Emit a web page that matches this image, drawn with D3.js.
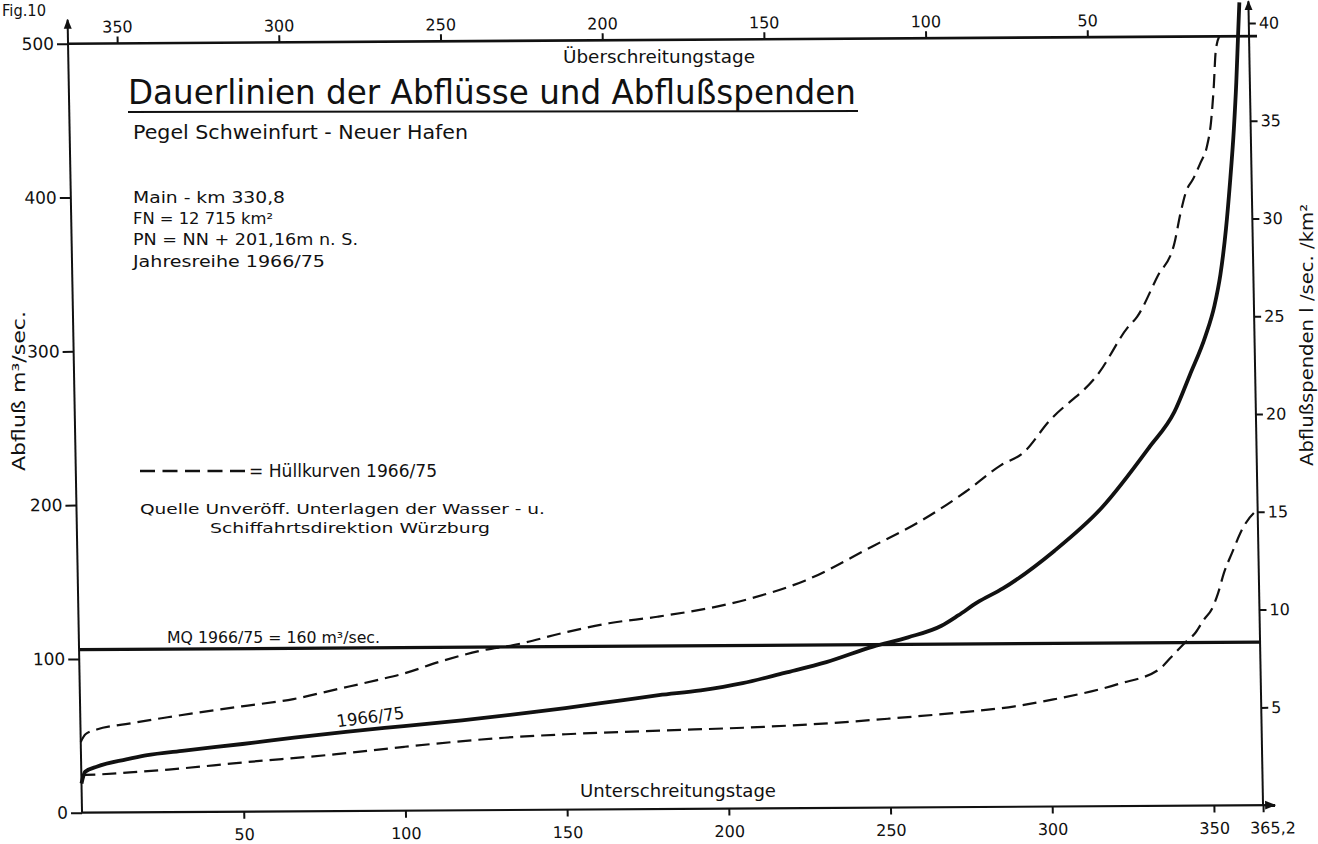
<!DOCTYPE html>
<html>
<head>
<meta charset="utf-8">
<script src="https://cdn.jsdelivr.net/npm/d3@7"></script>
<style>
  body { margin: 0; background: #fff; }
  text { font-family: "DejaVu Sans", sans-serif; fill: #111; }
</style>
</head>
<body>
<svg id="chart" width="1318" height="844"></svg>
<script>
// Flow duration curves, gauge Schweinfurt - Neuer Hafen (Main), 1966/75
// Days are "Unterschreitungstage" (days below), discharge in m³/sec.

const meanDays  = [0, 1.2, 5, 14, 20, 32, 50, 66, 82, 100, 118, 138, 150, 168, 179, 192, 205, 218, 231, 245.5, 256.4, 266.8, 272, 278, 286, 302, 317, 332, 340, 345, 350, 353, 355, 357, 358.5, 360, 361, 361.8, 362.4];
const meanFlow  = [19, 26.6, 30, 34.5, 37, 40, 44, 48, 51.5, 55, 58.5, 63, 66, 71, 74, 77, 81.5, 88, 94.8, 104.7, 110.6, 118, 124.6, 133, 142, 166, 194, 233, 256, 280, 305, 325, 345, 375, 405, 440, 470, 500, 522];

const upperDays = [0, 1.5, 5, 14, 27, 50, 66, 79, 92, 100, 112, 125, 134, 150, 164, 179, 207, 225, 246, 260, 275, 286, 293, 301, 317, 326, 329, 335.5, 341, 343, 345, 347, 349.5, 351.5, 353, 354, 354.8, 356];
const upperFlow = [46, 51, 54, 57.4, 61.7, 68.5, 73, 79, 85, 89, 97, 104, 107, 115, 121, 125, 136, 148, 170, 185, 205, 222, 230, 250, 282, 311, 318, 344, 366, 385, 400, 407, 418, 428, 445, 467, 490, 500];

const lowerDays = [0, 5, 15, 27, 50, 79, 100, 131, 150, 179, 205, 231, 250, 269, 289, 301, 321, 334, 337.6, 341.5, 345.4, 348, 350.5, 352.5, 354.4, 357, 361, 364, 365.2];
const lowerFlow = [24.5, 24.8, 26, 27.7, 32, 37, 41.5, 47, 49, 51, 52.5, 55, 57.8, 61, 65.3, 69.6, 79.3, 89, 96.5, 105, 112.7, 121, 127.8, 138, 151, 164, 182, 190, 192];

// Mean discharge line and catchment area
const mqFlow = 106;
const catchmentKm2 = 12715;

// Tick labels
const bottomTicks = [50, 100, 150, 200, 250, 300, 350, 365.2];
const topTicks    = [350, 300, 250, 200, 150, 100, 50];
const leftTicks   = [0, 100, 200, 300, 400, 500];
const rightTicks  = [5, 10, 15, 20, 25, 30, 35, 40];
const yearDays = 365.2;

const svg = d3.select("#chart");
const L = 75, R = 1256, T = 40, B = 809;

const x    = d3.scaleLinear().domain([0, yearDays]).range([L, R]);
const xTop = d3.scaleLinear().domain([yearDays, 0]).range([L, R]);
const y    = d3.scaleLinear().domain([0, 500]).range([B, T]);
const yR   = d3.scaleLinear().domain([0, 500 * 1000 / catchmentKm2]).range([B, T]);

const comma = d => String(d).replace(".", ",");

// arrow heads for the axes
const defs = svg.append("defs");
defs.append("marker").attr("id", "arrow")
  .attr("viewBox", "0 0 10 10").attr("refX", 9).attr("refY", 5)
  .attr("markerWidth", 5).attr("markerHeight", 5).attr("orient", "auto")
  .append("path").attr("d", "M0,1 L10,5 L0,9 Z").attr("fill", "#111");

// the drawing frame sits slightly askew on the sheet
const plot = svg.append("g")
  .attr("transform", "matrix(1,-0.0064,0.0182,1,-7.7,4.2)");

function styleAxis(size) {
  return g => {
    g.select(".domain").remove();
    g.selectAll(".tick line").attr("stroke", "#111").attr("stroke-width", 2);
    g.selectAll(".tick text").attr("font-size", size).attr("fill", "#111");
  };
}

// axes
const bottomAxis = plot.append("g").attr("transform", `translate(0,${B})`)
  .call(d3.axisBottom(x).tickValues(bottomTicks).tickFormat(comma).tickSize(7).tickPadding(10))
  .call(styleAxis(16));
bottomAxis.selectAll(".tick text").filter(d => d === yearDays).attr("dx", 9);

plot.append("g").attr("transform", `translate(0,${T})`)
  .call(d3.axisTop(xTop).tickValues(topTicks).tickSize(7).tickPadding(4))
  .call(styleAxis(16));

plot.append("g").attr("transform", `translate(${L},0)`)
  .call(d3.axisLeft(y).tickValues(leftTicks).tickSize(11).tickPadding(3))
  .call(styleAxis(17));

plot.append("g").attr("transform", `translate(${R},0)`)
  .call(d3.axisRight(yR).tickValues(rightTicks).tickSize(7).tickPadding(3))
  .call(styleAxis(16));

// axis lines
const axisLines = plot.append("g").attr("stroke", "#111").attr("fill", "none");
axisLines.append("line").attr("x1", L).attr("x2", L).attr("y1", B).attr("y2", 16)
  .attr("stroke-width", 2).attr("marker-end", "url(#arrow)");
axisLines.append("line").attr("x1", R).attr("x2", R).attr("y1", B).attr("y2", 5)
  .attr("stroke-width", 2).attr("marker-end", "url(#arrow)");
axisLines.append("line").attr("x1", L).attr("x2", R + 12).attr("y1", B).attr("y2", B)
  .attr("stroke-width", 2.2).attr("marker-end", "url(#arrow)");
axisLines.append("line").attr("x1", L).attr("x2", R + 8).attr("y1", T).attr("y2", T)
  .attr("stroke-width", 2.6);

// mean discharge line
plot.append("line")
  .attr("x1", L).attr("x2", R)
  .attr("y1", y(mqFlow)).attr("y2", y(mqFlow))
  .attr("stroke", "#111").attr("stroke-width", 3.2);

// curves
const line = d3.line().curve(d3.curveMonotoneX);
const pts = (ds, qs) => ds.map((d, i) => [x(d), y(qs[i])]);

plot.append("path").attr("d", line(pts(upperDays, upperFlow)))
  .attr("fill", "none").attr("stroke", "#111").attr("stroke-width", 2.2)
  .attr("stroke-dasharray", "14,7");
plot.append("path").attr("d", line(pts(lowerDays, lowerFlow)))
  .attr("fill", "none").attr("stroke", "#111").attr("stroke-width", 2.2)
  .attr("stroke-dasharray", "14,7");
plot.append("path").attr("d", line(pts(meanDays, meanFlow)))
  .attr("fill", "none").attr("stroke", "#111").attr("stroke-width", 3.8)
  .attr("stroke-linejoin", "round");

// curve label
plot.append("text").attr("font-size", 17)
  .attr("textLength", 68).attr("lengthAdjust", "spacingAndGlyphs")
  .attr("transform", `translate(${x(79.5)},${y(54.5)}) rotate(-7)`)
  .text("1966/75");

// text helper
function label(txt, px, py, size, len, extra) {
  const t = svg.append("text").attr("x", px).attr("y", py).attr("font-size", size).text(txt);
  if (len) t.attr("textLength", len).attr("lengthAdjust", "spacingAndGlyphs");
  if (extra) extra(t);
  return t;
}

label("Fig.10", 2, 16, 16, 44);

label("Dauerlinien der Abflüsse und Abflußspenden", 128, 104, 33, 728);
svg.append("line").attr("x1", 128).attr("x2", 858).attr("y1", 112).attr("y2", 111)
  .attr("stroke", "#111").attr("stroke-width", 2);

label("Pegel Schweinfurt - Neuer Hafen", 133, 139, 19, 335);
label("Main - km  330,8", 133, 203, 16, 152);
label("FN = 12 715 km²", 133, 224, 16, 140);
label("PN = NN + 201,16m  n. S.", 133, 245, 16, 225);
label("Jahresreihe  1966/75", 133, 267, 16, 192);

label("Überschreitungstage", 563, 63, 17, 192);
label("Unterschreitungstage", 580, 797, 17, 196);

// legend
svg.append("line").attr("x1", 140).attr("x2", 245).attr("y1", 471).attr("y2", 471)
  .attr("stroke", "#111").attr("stroke-width", 2.4).attr("stroke-dasharray", "15,7.5");
label("= Hüllkurven 1966/75", 249, 477, 18, 188);

label("Quelle  Unveröff. Unterlagen  der  Wasser - u.", 140, 514, 14.5, 405);
label("Schiffahrtsdirektion Würzburg", 210, 533, 14.5, 280);

label("MQ 1966/75 = 160 m³/sec.", 167, 643, 15, 213);

// axis titles
label("Abfluß  m³/sec.", 0, 0, 17, 160, t => t.attr("transform", "translate(25,471) rotate(-90)"));
label("Abflußspenden   l /sec. /km²", 0, 0, 17, 262, t => t.attr("transform", "translate(1313,466) rotate(-90)"));
</script>
</body>
</html>
